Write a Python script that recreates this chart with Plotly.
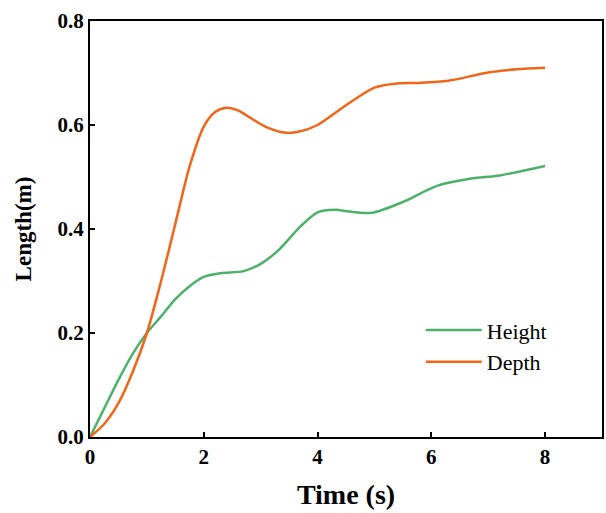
import plotly.graph_objects as go

# Data
time_depth = [0, 0.25, 0.5, 0.75, 1.0, 1.25, 1.5, 1.75, 2.0, 2.2, 2.4, 2.6, 2.8, 3.1, 3.45, 3.7,
              4.0, 4.5, 5.0, 5.4, 5.8, 6.3, 7.0, 7.5, 8.0]
depth = [0, 0.025, 0.065, 0.125, 0.2, 0.3, 0.41, 0.52, 0.597, 0.625, 0.633, 0.628, 0.615, 0.596,
         0.585, 0.588, 0.6, 0.638, 0.672, 0.68, 0.681, 0.685, 0.701, 0.707, 0.71]

time_height = [0, 0.25, 0.5, 0.75, 1.0, 1.25, 1.5, 1.75, 2.0, 2.3, 2.7, 3.0, 3.3, 3.7, 4.0, 4.3,
               4.6, 4.95, 5.5, 6.1, 6.7, 7.2, 8.0]
height = [0, 0.055, 0.11, 0.16, 0.2, 0.232, 0.265, 0.29, 0.308, 0.315, 0.319, 0.333, 0.358, 0.405,
          0.432, 0.437, 0.433, 0.431, 0.452, 0.483, 0.497, 0.503, 0.521]

x_ticks = [0, 2, 4, 6, 8]
y_ticks = [0.0, 0.2, 0.4, 0.6, 0.8]
y_tick_labels = ["0.0", "0.2", "0.4", "0.6", "0.8"]

GREEN = "#4cb26a"
ORANGE = "#f26519"
FONT = "Liberation Serif"

fig = go.Figure()
fig.add_trace(go.Scatter(x=time_height, y=height, mode="lines", name="Height",
                         line=dict(color=GREEN, width=2.5, shape="spline", smoothing=0.8)))
fig.add_trace(go.Scatter(x=time_depth, y=depth, mode="lines", name="Depth",
                         line=dict(color=ORANGE, width=2.5, shape="spline", smoothing=0.8)))

axis_common = dict(showline=True, linecolor="black", linewidth=2, mirror=True,
                   ticks="inside", ticklen=5, tickwidth=2, tickcolor="black",
                   showgrid=False, zeroline=False,
                   tickfont=dict(family=FONT, size=21, color="black", weight="bold"))

fig.update_layout(
    width=606, height=513,
    margin=dict(l=90, r=2, t=21, b=76),
    paper_bgcolor="white", plot_bgcolor="white",
    xaxis=dict(range=[0, 9], tickvals=x_ticks,
               title=dict(text="<b>Time (s)</b>", font=dict(family=FONT, size=28, color="black"),
                          standoff=16),
               **axis_common),
    yaxis=dict(range=[0, 0.8], tickvals=y_ticks, ticktext=y_tick_labels,
               title=dict(text="<b>Length(m)</b>", font=dict(family=FONT, size=23, color="black"),
                          standoff=19),
               **axis_common),
    legend=dict(x=0.646, y=0.307, xanchor="left", yanchor="top",
                font=dict(family=FONT, size=22, color="black"),
                bgcolor="rgba(0,0,0,0)", itemwidth=56, tracegroupgap=0),
    showlegend=True,
)

fig.write_html("out.html")
